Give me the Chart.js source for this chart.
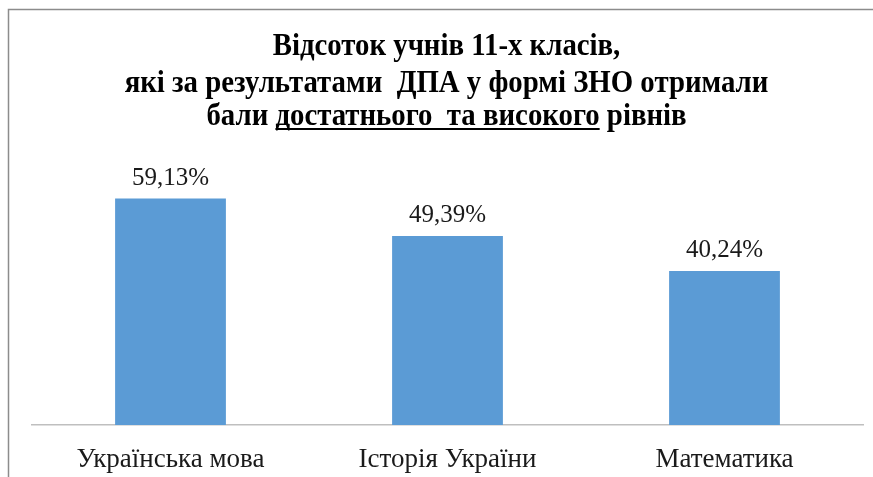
<!DOCTYPE html>
<html>
<head>
<meta charset="utf-8">
<script src="https://cdn.jsdelivr.net/npm/chart.js@4.4.1/dist/chart.umd.min.js"></script>
<style>
  html, body { margin: 0; padding: 0; background: #fff; }
  #wrap { width: 873px; height: 477px; position: relative; }
</style>
</head>
<body>
<div id="wrap"><canvas id="c"></canvas></div>
<script>
// ── Data ──────────────────────────────────────────────────────────────────────
const categories = ['Українська мова', 'Історія України', 'Математика'];
const values     = [59.13, 49.39, 40.24];
const titleLines = [
  ['Відсоток учнів 11-х класів,'],
  ['які за результатами  ДПА у формі ЗНО отримали'],
  ['бали ', 'достатнього  та високого', ' рівнів'],
];

const BAR_COLOR = '#5b9bd5';
const SERIF     = "'Liberation Serif', 'Times New Roman', serif";
const TITLE_SX  = 0.9;   // title font looks horizontally condensed

// ── Title with partial underline ─────────────────────────────────────────────
const titlePlugin = {
  id: 'uaTitle',
  afterDraw(chart) {
    const ctx = chart.ctx;
    const cx = chart.width / 2 + 10;   // title sits a bit right of centre
    const baselines = [55, 92, 125];
    ctx.save();
    ctx.font = `bold 32px ${SERIF}`;
    ctx.fillStyle = '#000';
    ctx.textBaseline = 'alphabetic';
    titleLines.forEach((parts, i) => {
      const total = parts.reduce((s, p) => s + ctx.measureText(p).width, 0);
      ctx.save();
      ctx.translate(cx, 0);
      ctx.scale(TITLE_SX, 1);
      let x = -total / 2;
      parts.forEach((p, j) => {
        const w = ctx.measureText(p).width;
        ctx.fillText(p, x, baselines[i]);
        if (i === 2 && j === 1) {
          ctx.fillRect(x, baselines[i] + 3, w, 2);
        }
        x += w;
      });
      ctx.restore();
    });
    ctx.restore();
  }
};

// ── Frame (only top and left edges are in view) ──────────────────────────────
const framePlugin = {
  id: 'frame',
  beforeDraw(chart) {
    const ctx = chart.ctx;
    ctx.save();
    ctx.strokeStyle = '#8c8c8c';
    ctx.lineWidth = 1.5;
    ctx.strokeRect(8.5, 9.5, chart.width + 20, chart.height + 20);
    ctx.restore();
  }
};

// ── Value labels above bars ──────────────────────────────────────────────────
const valueLabels = {
  id: 'valueLabels',
  afterDatasetsDraw(chart) {
    const ctx = chart.ctx;
    const meta = chart.getDatasetMeta(0);
    ctx.save();
    ctx.font = `25px ${SERIF}`;
    ctx.fillStyle = '#1a1a1a';
    ctx.textAlign = 'center';
    ctx.textBaseline = 'bottom';
    meta.data.forEach((bar, i) => {
      const txt = values[i].toFixed(2).replace('.', ',') + '%';
      ctx.fillText(txt, bar.x, bar.y - 8);
    });
    ctx.restore();
  }
};

new Chart(document.getElementById('c'), {
  type: 'bar',
  data: {
    labels: categories,
    datasets: [{
      data: values,
      backgroundColor: BAR_COLOR,
      borderWidth: 0,
      barPercentage: 0.4,
      categoryPercentage: 1,
    }],
  },
  options: {
    responsive: true,
    maintainAspectRatio: false,
    animation: false,
    layout: { padding: { top: 157, left: 32, right: 10, bottom: 0 } },
    scales: {
      x: {
        grid: { display: false, drawTicks: false },
        border: { display: true, color: '#bfbfbf', width: 1.5 },
        ticks: { color: '#1a1a1a', padding: 19, font: { family: SERIF, size: 27 } },
        afterFit: (axis) => { axis.height = 52; },
      },
      y: {
        display: false,
        min: 0,
        max: 70,
      },
    },
    plugins: {
      legend: { display: false },
      tooltip: { enabled: false },
    },
  },
  plugins: [framePlugin, titlePlugin, valueLabels],
});
</script>
</body>
</html>
